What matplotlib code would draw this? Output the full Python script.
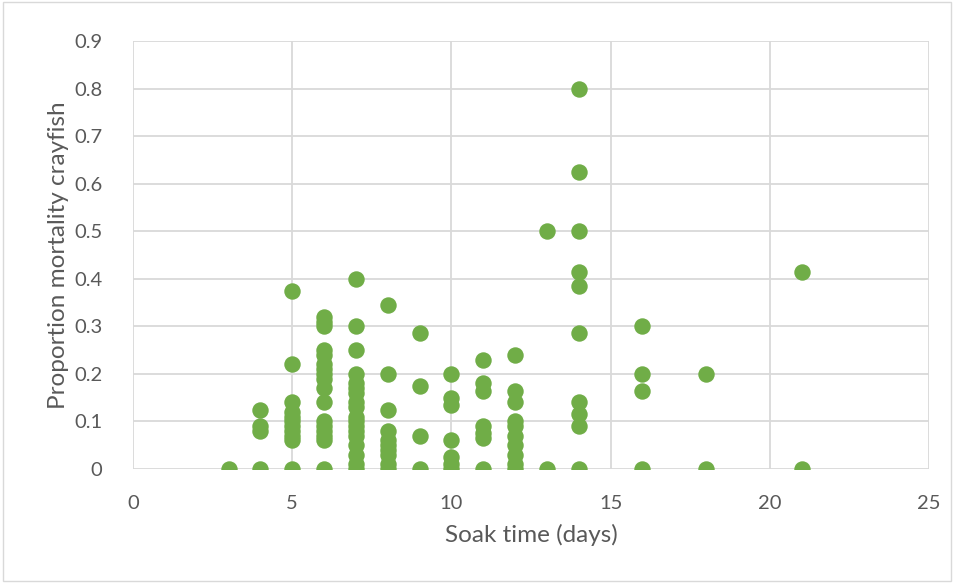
import numpy as np
import matplotlib
matplotlib.use("Agg")
from matplotlib import pyplot as plt

# soak time (days) -> observed proportions
soak_days = [3, 4, 5, 6, 7, 8, 9, 10, 11, 12, 13, 14, 16, 18, 21]
mortality = [
    [0],
    [0, 0.08, 0.09, 0.125],
    [0, 0.06, 0.07, 0.08, 0.09, 0.10, 0.11, 0.12, 0.14, 0.22, 0.375],
    [0, 0.06, 0.07, 0.08, 0.09, 0.10, 0.14, 0.17, 0.19, 0.20, 0.21, 0.22,
     0.24, 0.25, 0.30, 0.31, 0.32],
    [0, 0.01, 0.03, 0.05, 0.07, 0.08, 0.09, 0.10, 0.11, 0.13, 0.14, 0.16,
     0.17, 0.18, 0.20, 0.25, 0.30, 0.40],
    [0, 0.01, 0.03, 0.04, 0.05, 0.06, 0.08, 0.125, 0.20, 0.345],
    [0, 0.07, 0.175, 0.285],
    [0, 0.01, 0.025, 0.06, 0.135, 0.15, 0.20],
    [0, 0.065, 0.075, 0.09, 0.165, 0.18, 0.23],
    [0, 0.01, 0.03, 0.05, 0.07, 0.09, 0.10, 0.14, 0.165, 0.24],
    [0, 0.5],
    [0, 0.09, 0.115, 0.14, 0.285, 0.385, 0.415, 0.5, 0.625, 0.8],
    [0, 0.165, 0.2, 0.3],
    [0, 0.2],
    [0, 0.415],
]

x = np.concatenate([[d] * len(m) for d, m in zip(soak_days, mortality)])
y = np.concatenate(mortality)

plt.rcParams['font.family'] = ['Lato', 'DejaVu Sans']
txt = '#595959'

fig = plt.figure(figsize=(9.54, 5.83), dpi=100)
ax = fig.add_axes([133 / 954, 1 - 469 / 583, (929 - 133) / 954, (469 - 41) / 583])

ax.scatter(x, y, s=140, color='#70AD47', zorder=3, linewidths=0)

ax.set_xlim(0, 25)
ax.set_ylim(0, 0.9)
ax.set_xticks(np.arange(0, 26, 5))
ax.set_yticks(np.round(np.arange(0, 0.91, 0.1), 1))
ax.set_yticklabels(['0'] + ['%.1f' % v for v in np.arange(0.1, 0.91, 0.1)])
ax.grid(True, color='#d9d9d9', linewidth=1.3)
ax.set_axisbelow(True)
for s in ax.spines.values():
    s.set_visible(False)
ax.tick_params(length=0, labelsize=14.5, colors=txt)
ax.tick_params(axis='y', pad=22)
ax.tick_params(axis='x', pad=19)

ax.set_xlabel('Soak time (days)', fontsize=17.5, color=txt, labelpad=8)
ax.set_ylabel('Proportion mortality crayfish', fontsize=17.5, color=txt, labelpad=4)

# outer chart border
fig.patches.append(plt.Rectangle((0.003, 0.003), 0.994, 0.994, transform=fig.transFigure,
                                 fill=False, edgecolor='#d9d9d9', linewidth=1))

fig.savefig('out.png', dpi=100)
